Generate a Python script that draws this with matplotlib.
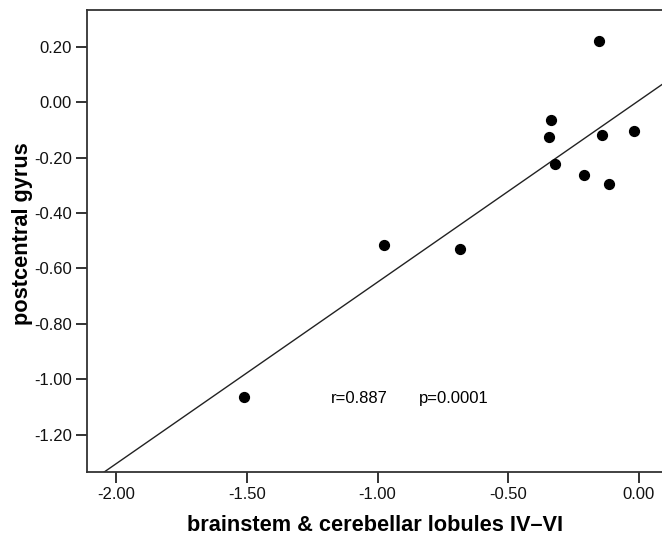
import numpy as np
import matplotlib
matplotlib.use("Agg")
import matplotlib.pyplot as plt

plt.rcParams['font.family'] = ['Liberation Sans', 'DejaVu Sans']

# brainstem & cerebellar lobules IV-VI vs postcentral gyrus
x_vals = [-0.154, -0.337, -0.343, -0.142, -0.018, -0.322, -0.212, -0.115, -0.976, -0.686, -1.511]
y_vals = [0.220, -0.064, -0.127, -0.119, -0.104, -0.224, -0.264, -0.296, -0.515, -0.529, -1.065]
x_ticks = [-2.0, -1.5, -1.0, -0.5, 0.0]
y_ticks = [0.2, 0.0, -0.2, -0.4, -0.6, -0.8, -1.0, -1.2]

x = np.array(x_vals)
y = np.array(y_vals)
slope, icpt = np.polyfit(x, y, 1)

fig = plt.figure(figsize=(6.62, 5.35), dpi=100)
ax = fig.add_axes([0.1319, 0.118, 0.8681, 0.863])

xlim = (-2.11, 0.088)
ylim = (-1.335, 0.333)
xl = np.array(xlim)
ax.plot(xl, slope*xl + icpt, color='#222222', lw=1.0)
ax.scatter(x, y, s=50, color='black', zorder=3)

ax.set_xlim(xlim)
ax.set_ylim(ylim)
ax.set_xticks(x_ticks)
ax.set_yticks(y_ticks)
ax.set_xticklabels(['%.2f' % v for v in x_ticks])
ax.set_yticklabels(['%.2f' % v for v in y_ticks])
ax.tick_params(direction='out', length=7.7, width=1.2, labelsize=12, colors='#111111')
for s in ['left', 'bottom', 'top']:
    ax.spines[s].set_linewidth(1.3)
    ax.spines[s].set_color('#333333')
ax.spines['right'].set_visible(False)

ax.set_xlabel('brainstem & cerebellar lobules IV\u2013VI', fontsize=15.7, fontweight='bold', labelpad=9)
ax.set_ylabel('postcentral gyrus', fontsize=15.7, fontweight='bold', labelpad=0.5, y=0.516)

ax.text(-1.18, -1.07, 'r=0.887', fontsize=12, va='center')
ax.text(-0.84, -1.07, 'p=0.0001', fontsize=12, va='center')

plt.savefig('out.png', dpi=100)
